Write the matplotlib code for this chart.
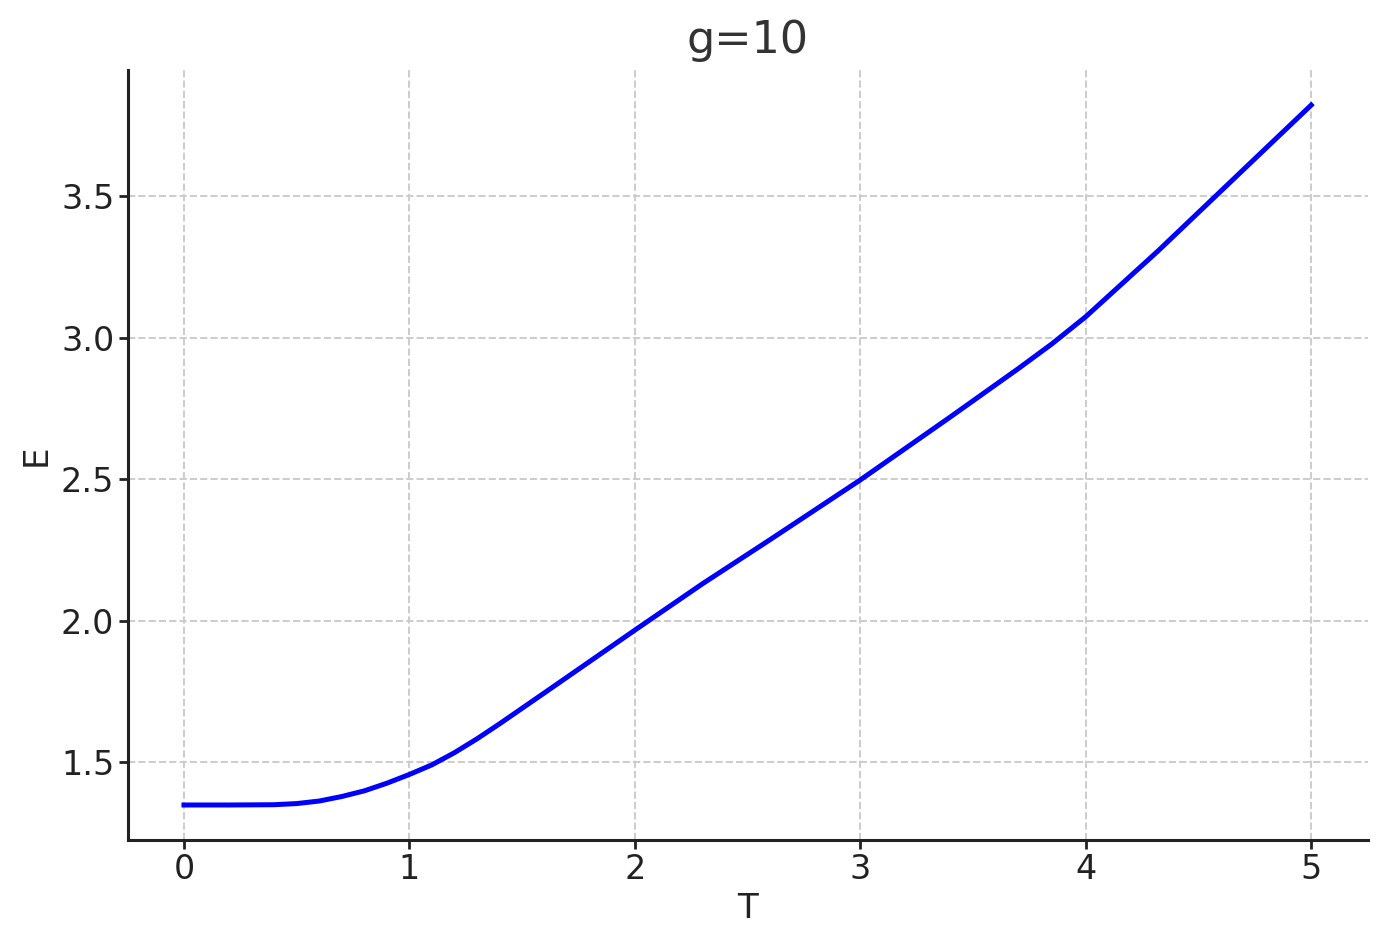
import matplotlib
matplotlib.use("Agg")
import matplotlib.pyplot as plt

# values
T = [0, 0.2, 0.4, 0.5, 0.6, 0.7, 0.8, 0.9, 1.0, 1.1, 1.2, 1.3, 1.4,
     1.6, 2.0, 2.3, 2.6, 3.0, 3.4, 3.7, 3.85, 4.0, 4.32, 5.0]
E = [1.348, 1.348, 1.349, 1.353, 1.362, 1.378, 1.398, 1.425, 1.456, 1.49,
     1.533, 1.582, 1.635, 1.745, 1.966, 2.13, 2.286, 2.497, 2.72, 2.89,
     2.978, 3.074, 3.306, 3.822]

fig, ax = plt.subplots(figsize=(6.935, 4.735), dpi=200)
fig.subplots_adjust(left=0.092, right=0.986, bottom=0.113, top=0.926)

ax.plot(T, E, color="blue", linewidth=1.8)

ax.set_title("g=10", fontsize=16, color="#333333")
ax.set_xlabel("T", fontsize=12.3, color="#222222", labelpad=2)
ax.set_ylabel("E", fontsize=12.3, color="#222222", labelpad=3)
ax.tick_params(labelsize=12, colors="#222222", width=1.0, length=3.3, pad=1.5)

ax.grid(True, linestyle="--", color="#cccccc", linewidth=0.7)
ax.spines["top"].set_visible(False)
ax.spines["right"].set_visible(False)
for s in ("left", "bottom"):
    ax.spines[s].set_linewidth(1.1)
    ax.spines[s].set_color("#222222")

fig.savefig("out.png", dpi=200)
